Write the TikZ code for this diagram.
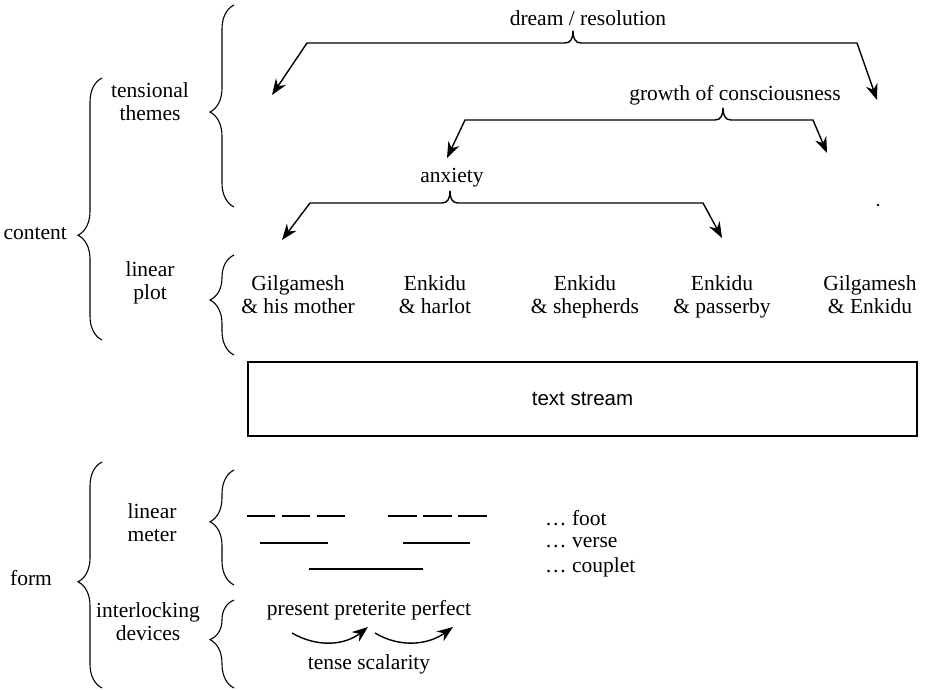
\documentclass[tikz,border=0pt]{standalone}
\usepackage{fontspec}
\setmainfont{Liberation Serif}
\setsansfont{Liberation Sans}
\usetikzlibrary{arrows.meta,decorations.pathreplacing}

\tikzset{
  lbl/.style={font=\fontsize{21.5}{23}\selectfont, inner sep=0pt, align=center},
  lbrace/.style={decorate, decoration={brace, amplitude=24pt, aspect=#1}, line width=1.1pt},
  lbrace/.default=0.5,
  splitarrow/.style={{Stealth[length=16pt,width=12pt]}-{Stealth[length=16pt,width=12pt]}, line width=1.4pt, line join=round},
  tensearrow/.style={-{Stealth[length=16pt,width=12pt]}, line width=1.4pt},
  meterline/.style={line width=1.3pt},
}

\begin{document}
\begin{tikzpicture}[x=1pt,y=-1pt]
\useasboundingbox (0,0) rectangle (931,689);

% left labels
\node[lbl,anchor=east] (content) at (67,234) {content};
\node[lbl] (themes) at (150,104) {\strut tensional\\\strut themes};
\node[lbl] (plot) at (150,283) {\strut linear\\\strut plot};
\node[lbl] (form) at (31,578) {form};
\node[lbl] (meter) at (152,525) {\strut linear\\\strut meter};
\node[lbl] (devices) at (148,624) {\strut interlocking\\\strut devices};

\draw[lbrace=0.4] (102,340) -- (102,78);
\draw[lbrace=0.47] (234,207) -- (234,5);
\draw[lbrace=0.55] (234,355) -- (234,255);
\draw[lbrace=0.47] (102,688) -- (102,462);
\draw[lbrace=0.55] (234,585) -- (234,470);
\draw[lbrace=0.55] (234,688) -- (234,600);

% tensional themes
\node[lbl] (dream) at (588,18) {dream / resolution};
\node[lbl] (growth) at (735,95) {growth of consciousness};
\node[lbl] (anxiety) at (452,178) {anxiety};

\coordinate (dl) at (272,95);  \coordinate (dlc) at (307,43);
\coordinate (dn) at (573,31);
\coordinate (drc) at (857,43); \coordinate (dr) at (877,100);
\draw[splitarrow] (dl) -- (dlc) -- (565,43) .. controls (571,43) and (573,38) .. (dn)
  .. controls (573,38) and (575,43) .. (581,43) -- (drc) -- (dr);

\coordinate (gl) at (447,158); \coordinate (glc) at (465,120);
\coordinate (gn) at (723,108);
\coordinate (grc) at (813,120); \coordinate (gr) at (827,153);
\draw[splitarrow] (gl) -- (glc) -- (715,120) .. controls (721,120) and (723,115) .. (gn)
  .. controls (723,115) and (725,120) .. (731,120) -- (grc) -- (gr);

\coordinate (al) at (282,240); \coordinate (alc) at (310,203);
\coordinate (an) at (450,191);
\coordinate (arc) at (703,203); \coordinate (ar) at (722,238);
\draw[splitarrow] (al) -- (alc) -- (442,203) .. controls (448,203) and (450,198) .. (an)
  .. controls (450,198) and (452,203) .. (458,203) -- (arc) -- (ar);

\fill (878,205) circle (1.3pt);

% linear plot
\node[lbl] (p1) at (298,297) {\strut Gilgamesh\\\strut\& his mother};
\node[lbl] (p2) at (435,297) {\strut Enkidu\\\strut\& harlot};
\node[lbl] (p3) at (585,297) {\strut Enkidu\\\strut\& shepherds};
\node[lbl] (p4) at (722,297) {\strut Enkidu\\\strut\& passerby};
\node[lbl] (p5) at (870,297) {\strut Gilgamesh\\\strut\& Enkidu};

\node[draw,line width=1.1pt,minimum width=669pt,minimum height=74pt,
  font=\sffamily\fontsize{20.5}{22}\selectfont] (stream) at (582.5,399) {text stream};

% linear meter
\foreach \a/\b in {247/275,282/310,317/345,388/417,423/452,458/487}
  \draw[meterline] (\a,516) -- (\b,516);
\foreach \a/\b in {260/328,403/470}
  \draw[meterline] (\a,543) -- (\b,543);
\draw[meterline] (309,569) -- (423,569);

\node[lbl,anchor=west] (foot) at (545,518) {\dots\ foot};
\node[lbl,anchor=west] (verse) at (545,543) {\dots\ verse};
\node[lbl,anchor=west] (couplet) at (545,567) {\dots\ couplet};

% interlocking devices
\node[lbl] (tenses) at (369,610) {present preterite perfect};
\node[lbl] (scalar) at (369,664) {tense scalarity};
\coordinate (t1) at (292,633); \coordinate (t2) at (368,627);
\coordinate (t3) at (375,633); \coordinate (t4) at (453,627);
\draw[tensearrow] (t1) .. controls (318,648) and (345,645) .. (t2);
\draw[tensearrow] (t3) .. controls (400,648) and (428,645) .. (t4);
\end{tikzpicture}
\end{document}
